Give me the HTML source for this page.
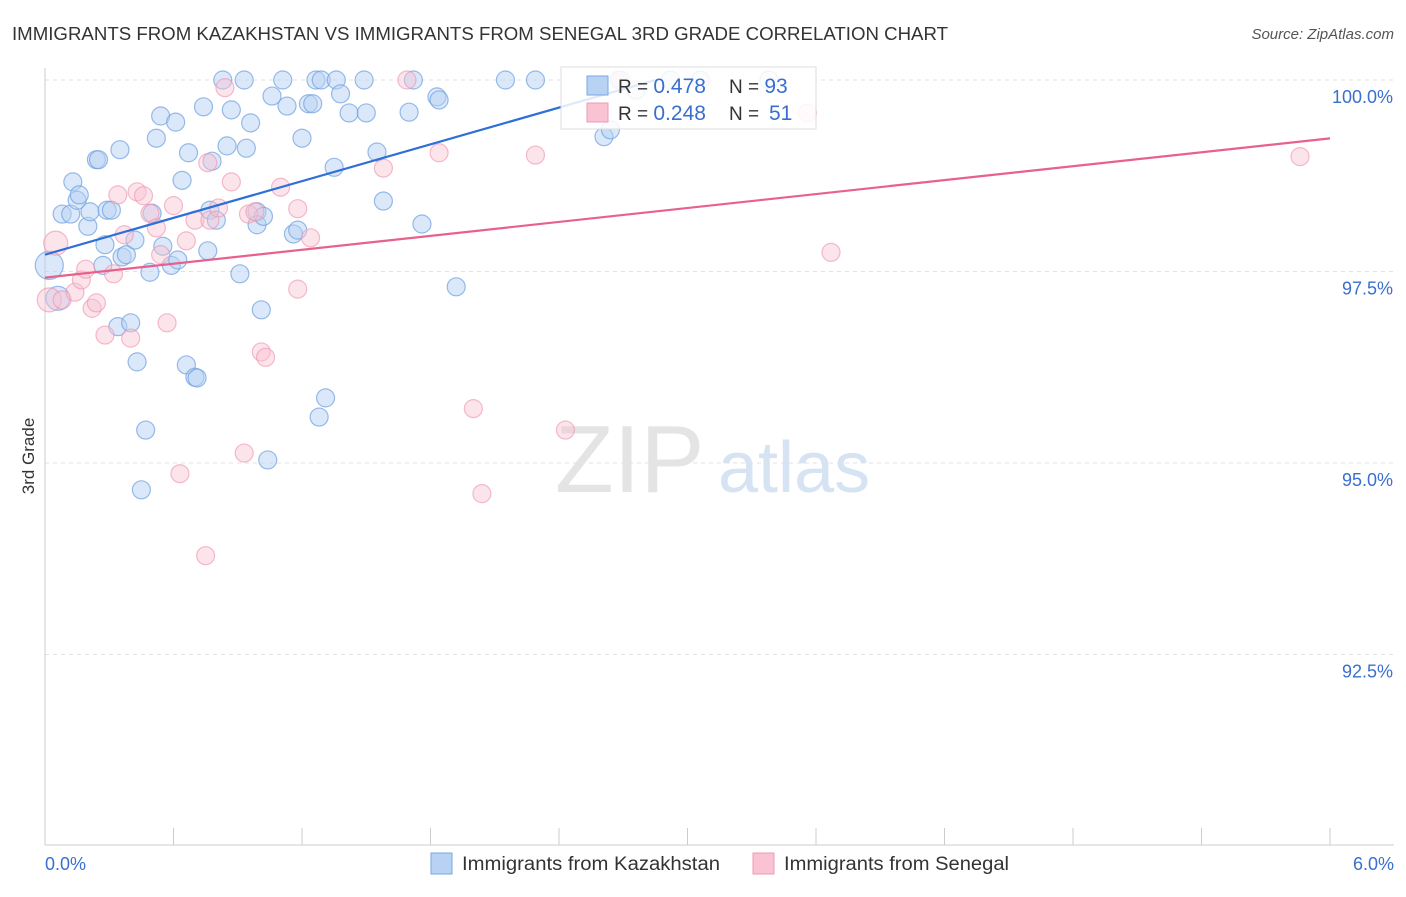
<!DOCTYPE html>
<html><head><meta charset="utf-8"><style>
body{margin:0;background:#fff;font-family:"Liberation Sans",sans-serif;}
svg text{font-family:"Liberation Sans",sans-serif;}
</style></head><body>
<svg id="chart" width="1406" height="892">
<text x="12" y="40" font-size="18" fill="#333" textLength="936" lengthAdjust="spacingAndGlyphs">IMMIGRANTS FROM KAZAKHSTAN VS IMMIGRANTS FROM SENEGAL 3RD GRADE CORRELATION CHART</text>
<text x="1394" y="39" font-size="15" fill="#555" font-style="italic" text-anchor="end">Source: ZipAtlas.com</text>
<text x="34" y="456" font-size="17" fill="#333" transform="rotate(-90 34 456)" text-anchor="middle">3rd Grade</text>
<g id="grid"></g>
<text x="555" y="492" font-size="96" fill="#e4e4e4" font-family="Liberation Serif">ZIP</text>
<text x="718" y="492" font-size="72" fill="#d5e3f3">atlas</text>
<g id="pts"></g>
<g id="trends"></g>
<g>
<rect x="561" y="67" width="255" height="62" fill="#fff" fill-opacity="0.85" stroke="#ddd"/>
<rect x="587" y="76" width="21" height="19" fill="#b8d2f4" stroke="#7aa6e6"/>
<rect x="587" y="103" width="21" height="19" fill="#f9c3d3" stroke="#f09ab5"/>
<text x="618" y="93" font-size="19" fill="#333">R = <tspan fill="#3a6fd0" font-size="21">0.478</tspan><tspan x="729">N = </tspan><tspan fill="#3a6fd0" font-size="21">93</tspan></text>
<text x="618" y="120" font-size="19" fill="#333">R = <tspan fill="#3a6fd0" font-size="21">0.248</tspan><tspan x="729">N = </tspan><tspan fill="#3a6fd0" x="769" font-size="21">51</tspan></text>
</g>
<g>
<rect x="431" y="853" width="21" height="21" fill="#b8d2f4" stroke="#7aa6e6"/>
<text x="462" y="870" font-size="19" fill="#333" textLength="258" lengthAdjust="spacingAndGlyphs">Immigrants from Kazakhstan</text>
<rect x="753" y="853" width="21" height="21" fill="#f9c3d3" stroke="#f09ab5"/>
<text x="784" y="870" font-size="19" fill="#333" textLength="225" lengthAdjust="spacingAndGlyphs">Immigrants from Senegal</text>
</g>
</svg>
<script>
const yTicks=[100,97.5,95,92.5];
const yTickLabels=["100.0%","97.5%","95.0%","92.5%"];
const xTickCount=10;
const xLabels=["0.0%","6.0%"];
const blueX=[0.02,0.06,0.08,0.12,0.13,0.15,0.16,0.20,0.21,0.24,0.25,0.27,0.28,0.29,0.31,0.34,0.35,0.36,0.38,0.40,0.42,0.43,0.47,0.45,0.49,0.50,0.52,0.54,0.55,0.59,0.61,0.62,0.64,0.66,0.67,0.70,0.71,0.74,0.76,0.77,0.78,0.80,0.83,0.85,0.87,0.91,0.93,0.94,0.96,0.99,0.99,1.01,1.02,1.04,1.06,1.11,1.13,1.16,1.18,1.20,1.23,1.25,1.265,1.29,1.28,1.31,1.35,1.36,1.38,1.42,1.49,1.50,1.55,1.58,1.70,1.72,1.76,1.83,1.84,1.92,2.15,2.29,2.61,2.64,2.68,2.92,3.06,3.38,2.76];
const blueY=[97.58,97.15,98.25,98.25,98.67,98.43,98.50,98.09,98.28,98.96,98.96,97.58,97.85,98.30,98.30,96.78,99.09,97.69,97.72,96.83,97.91,96.32,95.43,94.65,97.49,98.26,99.24,99.53,97.83,97.58,99.45,97.65,98.69,96.28,99.05,96.12,96.11,99.65,97.77,98.30,98.94,98.17,100,99.14,99.61,97.47,100,99.11,99.44,98.28,98.11,97.0,98.22,95.04,99.79,100,99.66,97.99,98.04,99.24,99.69,99.69,100,100,95.60,95.85,98.86,100,99.82,99.57,100,99.57,99.06,98.42,99.58,100,98.12,99.78,99.74,97.30,100,100,99.26,99.35,100,100,100,100,99.87];
const blueR=[14,12,9,9,9,9,9,9,9,9,9,9,9,9,9,9,9,9,9,9,9,9,9,9,9,9,9,9,9,9,9,9,9,9,9,9,9,9,9,9,9,9,9,9,9,9,9,9,9,9,9,9,9,9,9,9,9,9,9,9,9,9,9,9,9,9,9,9,9,9,9,9,9,9,9,9,9,9,9,9,9,9,9,9,9,9,9,9,9];
const pinkX=[0.02,0.05,0.08,0.14,0.17,0.19,0.22,0.24,0.28,0.32,0.34,0.37,0.40,0.43,0.46,0.49,0.52,0.54,0.57,0.60,0.63,0.66,0.70,0.75,0.76,0.77,0.81,0.84,0.87,0.93,0.95,0.98,1.01,1.03,1.10,1.18,1.18,1.24,1.58,1.69,1.84,2.00,2.04,2.29,2.43,2.69,3.56,3.67,5.86];
const pinkY=[97.13,97.87,97.13,97.23,97.39,97.53,97.02,97.09,96.67,97.47,98.50,97.98,96.63,98.54,98.49,98.26,98.07,97.72,96.83,98.36,94.86,97.90,98.17,93.79,98.92,98.17,98.33,99.90,98.67,95.13,98.25,98.28,96.45,96.38,98.60,97.27,98.32,97.94,98.85,100,99.05,95.71,94.60,99.02,95.43,100,99.57,97.75,99.0];
const trendBlue=[97.72,0.80];
const trendPink=[97.42,0.303];
const NS="http://www.w3.org/2000/svg";
function sx(v){return 45+v*214.17;}
function sy(v){return 80+(100-v)*76.6;}
function mk(t,a,p){const e=document.createElementNS(NS,t);for(const k in a)e.setAttribute(k,a[k]);p.appendChild(e);return e;}
const grid=document.getElementById('grid');
yTicks.forEach((t,i)=>{
 const l=mk('line',{x1:45,x2:1394,y1:sy(t),y2:sy(t),stroke:'#e2e2e2','stroke-dasharray':'4,4'},grid);
 
 
 const tx=mk('text',{x:1393,y:sy(t)+23,'font-size':18,fill:'#3a6fd0','text-anchor':'end'},grid);
 tx.textContent=yTickLabels[i];
 
 
});
const ax=mk('line',{x1:45,x2:45,y1:68,y2:845,stroke:'#ccc'},grid);


const bx=mk('line',{x1:45,x2:1394,y1:845,y2:845,stroke:'#ccc'},grid);


for(let i=0;i<=xTickCount;i++){
 const v=6*i/xTickCount;
 const t=mk('line',{x1:sx(v),x2:sx(v),y1:828,y2:845,stroke:'#ccc'},grid);
 
 
}
[[0,'start',45],[6,'end',1394]].forEach((d,i)=>{
 const tx=mk('text',{x:d[2],y:870,'font-size':18,fill:'#3a6fd0','text-anchor':d[1]},grid);
 tx.textContent=xLabels[i];
 
 
});
const pts=document.getElementById('pts');
blueX.forEach((x,i)=>{
 const c=mk('circle',{cx:sx(x),cy:sy(blueY[i]),r:blueR[i],fill:'#b8d2f4','fill-opacity':0.5,stroke:'#6e9fe0','stroke-opacity':0.7,'stroke-width':1.2},pts);
 
 
});
pinkX.forEach((x,i)=>{
 const c=mk('circle',{cx:sx(x),cy:sy(pinkY[i]),r:i<2?12:9,fill:'#f9c3d3','fill-opacity':0.45,stroke:'#ee8fae','stroke-opacity':0.6,'stroke-width':1.2},pts);
 
 
});
const tr=document.getElementById('trends');
const xe=Math.min(6,(100-trendBlue[0])/trendBlue[1]);
const lb=mk('line',{x1:sx(0),y1:sy(trendBlue[0]),x2:sx(xe),y2:sy(trendBlue[0]+trendBlue[1]*xe),stroke:'#2e6fd8','stroke-width':2.2},tr);


const lp=mk('line',{x1:sx(0),y1:sy(trendPink[0]),x2:sx(6),y2:sy(trendPink[0]+trendPink[1]*6),stroke:'#e8608c','stroke-width':2.2},tr);


</script>
</body></html>
